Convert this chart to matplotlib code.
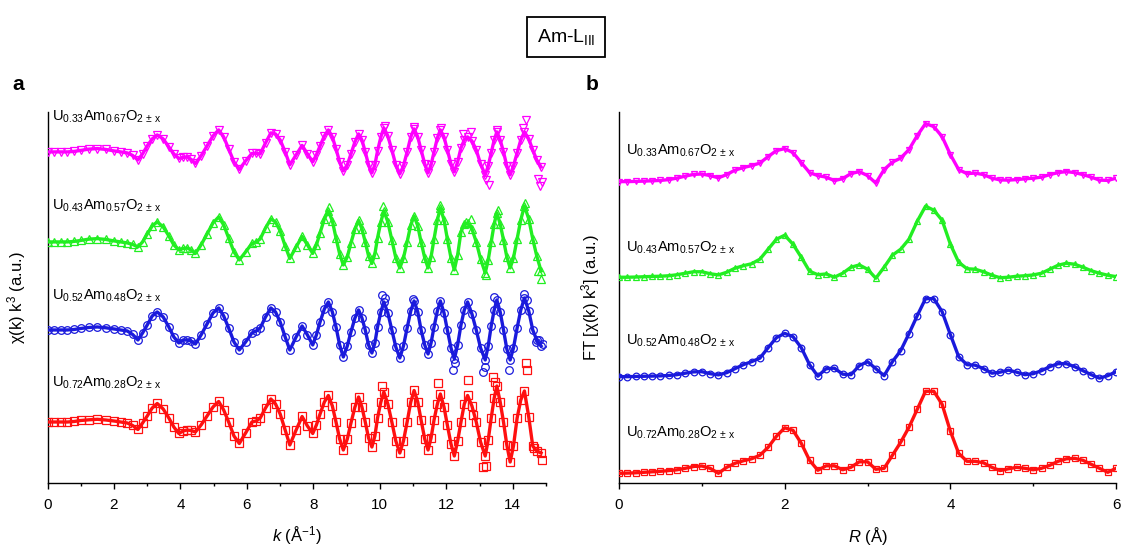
import matplotlib
matplotlib.use('Agg')
import matplotlib.pyplot as plt
from matplotlib.ticker import MultipleLocator

plt.rcParams['font.family'] = ['Liberation Sans', 'DejaVu Sans']
plt.rcParams['mathtext.fontset'] = 'custom'
plt.rcParams['mathtext.rm'] = 'Liberation Sans'
plt.rcParams['mathtext.it'] = 'Liberation Sans:italic'
plt.rcParams['mathtext.bf'] = 'Liberation Sans:bold'

# ---------------- data ----------------
samples = [r'U$_{0.33}$Am$_{0.67}$O$_{2\,\pm\,\mathrm{x}}$',
           r'U$_{0.43}$Am$_{0.57}$O$_{2\,\pm\,\mathrm{x}}$',
           r'U$_{0.52}$Am$_{0.48}$O$_{2\,\pm\,\mathrm{x}}$',
           r'U$_{0.72}$Am$_{0.28}$O$_{2\,\pm\,\mathrm{x}}$']

# panel a: k (1/Angstrom)
k = [0, 0.2, 0.4, 0.6, 0.8, 1.0, 1.25, 1.5, 1.75, 2.0, 2.2, 2.4, 2.56,
     2.72, 2.86, 3.0, 3.15, 3.3, 3.48, 3.65, 3.8, 3.95, 4.08,
     4.2, 4.32, 4.45, 4.62, 4.8, 4.98, 5.15, 5.3, 5.45, 5.61,
     5.77, 5.96, 6.15, 6.28, 6.4, 6.56, 6.72, 6.86, 7.0, 7.15,
     7.29, 7.48, 7.66, 7.82, 7.98, 8.09, 8.2, 8.33, 8.45, 8.57,
     8.68, 8.79, 8.9, 9.02, 9.13, 9.25, 9.36, 9.46, 9.56, 9.66,
     9.76, 9.85, 9.93, 10.03, 10.12, 10.24, 10.36, 10.48, 10.6, 10.71,
     10.82, 10.93, 11.03, 11.14, 11.24, 11.35, 11.45, 11.54, 11.63, 11.73,
     11.82, 11.93, 12.03, 12.14, 12.24, 12.34, 12.44, 12.54, 12.64, 12.77,
     12.9, 13.03, 13.17, 13.26, 13.35, 13.44, 13.52, 13.62, 13.72, 13.82,
     13.92, 14.02, 14.13, 14.24, 14.35, 14.48, 14.6, 14.72, 14.85]

chi_067 = [0, 0, 0, 0, 0.05, 0.15, 0.28, 0.33, 0.25, 0.1, 0.0, -0.1, -0.35,
           -0.8, -0.2, 0.6, 1.3, 1.7, 1.3, 0.5, -0.2, -0.65, -0.55,
           -0.5, -0.75, -1.15, -0.4, 0.6, 1.6, 2.2, 1.5, 0.3, -1.0,
           -1.75, -0.9, -0.15, -0.15, -0.2, 0.9, 1.9, 1.8, 1.2, 0.0,
           -1.3, -0.3, 0.65, -0.2, -1.0, -0.3, 0.6, 1.6, 2.2, 1.5,
           0.3, -1.0, -1.9, -1.3, -0.2, 1.0, 1.8, 1.2, 0.0, -1.3,
           -2.1, -1.3, 0.1, 1.5, 2.4, 1.6, 0.2, -1.3, -2.2, -1.4,
           0.0, 1.5, 2.3, 1.5, 0.2, -1.2, -2.1, -1.3, 0.0, 1.4,
           2.2, 1.5, 0.2, -1.2, -2.0, -1.0, 0.4, 1.2, 1.5, 1.1,
           0.2, -1.2, -2.3, -1.4, -0.1, 1.2, 2.0, 1.2, 0.0, -1.4,
           -2.3, -1.4, -0.1, 1.2, 2.0, 1.3, 0.2, -0.8, -1.5]
chi_057 = [0, 0, 0, 0, 0.05, 0.15, 0.28, 0.33, 0.25, 0.1, 0.0, -0.1, -0.25,
           -0.5, 0.0, 0.8, 1.6, 2.0, 1.5, 0.6, -0.3, -0.8, -0.65,
           -0.6, -0.8, -1.15, -0.3, 0.8, 1.9, 2.5, 1.7, 0.4, -1.0,
           -1.8, -1.0, -0.15, 0.0, 0.3, 1.4, 2.3, 2.0, 1.1, -0.4,
           -1.65, -0.5, 0.55, -0.3, -1.15, -0.3, 0.9, 2.3, 3.1, 2.1,
           0.4, -1.2, -2.3, -1.5, -0.1, 1.3, 2.15, 1.3, 0.0, -1.4,
           -2.15, -1.2, 0.4, 2.0, 3.1, 2.0, 0.2, -1.6, -2.6, -1.6,
           0.0, 1.7, 2.6, 1.6, 0.0, -1.6, -2.6, -1.5, 0.3, 2.2,
           3.4, 2.2, 0.3, -1.6, -2.8, -1.3, 1.0, 1.8, 1.9, 1.3,
           0.0, -1.7, -3.1, -1.8, 0.0, 1.8, 2.9, 1.8, 0.2, -1.5,
           -2.6, -1.6, 0.3, 2.2, 3.6, 2.3, 0.3, -1.4, -2.9]
chi_048 = [0, 0, 0, 0, 0.05, 0.15, 0.25, 0.3, 0.22, 0.1, 0.0, -0.1, -0.45,
           -1.0, -0.3, 0.5, 1.4, 1.8, 1.3, 0.3, -0.7, -1.3, -1.0,
           -1.0, -1.1, -1.4, -0.5, 0.6, 1.7, 2.2, 1.4, 0.2, -1.2,
           -2.0, -1.2, -0.3, -0.1, 0.2, 1.3, 2.2, 1.8, 0.8, -0.7,
           -2.0, -0.7, 0.4, -0.5, -1.5, -0.5, 0.8, 2.1, 2.8, 1.8,
           0.3, -1.5, -2.7, -1.6, -0.2, 1.2, 2.0, 1.2, 0.0, -1.5,
           -2.3, -1.3, 0.3, 1.8, 2.8, 1.7, 0.0, -1.7, -2.8, -1.6,
           0.2, 1.9, 2.9, 1.8, 0.0, -1.5, -2.4, -1.3, 0.3, 1.9,
           2.9, 1.7, 0.0, -1.8, -2.9, -1.5, 0.5, 2.0, 2.8, 1.6,
           0.0, -1.8, -3.0, -1.6, 0.4, 2.0, 3.0, 1.8, 0.0, -1.9,
           -3.0, -1.8, 0.2, 2.0, 3.2, 1.9, 0.0, -1.0, -1.6]
chi_028 = [0, 0, 0, 0, 0.05, 0.15, 0.22, 0.27, 0.2, 0.1, 0.0, -0.1, -0.35,
           -0.75, -0.1, 0.6, 1.4, 1.85, 1.3, 0.4, -0.5, -1.15, -0.9,
           -0.8, -0.85, -1.0, -0.3, 0.6, 1.5, 2.05, 1.2, 0.0, -1.4,
           -2.15, -1.1, 0.0, 0.1, 0.4, 1.4, 2.3, 1.8, 0.8, -0.8,
           -2.3, -0.8, 0.55, -0.4, -1.15, -0.3, 0.8, 2.0, 2.65, 1.6,
           0.0, -1.7, -2.8, -1.7, -0.1, 1.5, 2.5, 1.5, 0.0, -1.6,
           -2.5, -1.4, 0.4, 2.0, 3.0, 1.8, 0.0, -1.9, -3.1, -1.9,
           0.0, 2.0, 3.15, 2.0, 0.2, -1.7, -2.8, -1.6, 0.2, 1.8,
           2.8, 1.5, -0.3, -2.2, -3.4, -1.9, 0.0, 1.8, 2.65, 1.6,
           0.0, -2.0, -3.4, -1.8, 0.4, 2.4, 3.6, 2.0, 0.0, -2.3,
           -4.0, -2.4, 0.4, 2.2, 3.1, 0.5, -2.4, -2.9, -3.1]

# experimental points lying off the fit (panel a)
dev_k_067 = [10.14, 11.04, 11.84, 12.5, 12.74, 13.2, 13.27, 13.51, 14.3, 14.39, 14.75, 14.82, 14.88]
dev_067 = [2.6, 2.5, 2.4, 1.8, 2.0, -2.8, -3.3, 2.2, 2.4, 3.2, -2.7, -3.4, -3.0]
dev_k_057 = [8.46, 10.1, 11.82, 12.58, 12.75, 13.2, 13.54, 14.37, 14.76, 14.86]
dev_057 = [3.5, 3.6, 3.7, 2.0, 2.3, -3.3, 3.2, 3.9, -2.9, -3.7]
dev_k_048 = [10.06, 10.14, 11.0, 12.2, 12.27, 13.1, 13.15, 13.44, 13.88, 14.35, 14.42, 14.7, 14.8, 14.9]
dev_048 = [3.5, 3.2, 3.1, -4.0, -3.3, -4.2, -3.7, 3.3, -4.0, 3.6, 3.0, -1.2, -1.0, -1.4]
dev_k_028 = [10.07, 11.76, 12.66, 12.8, 13.1, 13.2, 13.4, 13.46, 14.4, 14.43, 14.65, 14.88]
dev_028 = [3.6, 3.9, 4.2, 0.7, -4.5, -4.4, 4.5, 4.0, 5.9, 5.2, -2.6, -3.8]

# panel b: R (Angstrom), 0.0 ... 6.0
R = [round(0.1 * i, 1) for i in range(61)]
ft_067 = [0.0, 0.0, 0.02, 0.05, 0.08, 0.12, 0.2, 0.35, 0.55, 0.72,
          0.76, 0.6, 0.38, 0.7, 1.15, 1.4, 1.6, 1.85, 2.5, 3.1,
          3.3, 2.9, 1.9, 0.9, 0.6, 0.45, 0.1, 0.3, 0.8, 1.0,
          0.6, -0.15, 1.2, 1.95, 2.35, 3.2, 4.6, 5.8, 5.5, 4.5,
          2.7, 1.2, 0.8, 0.85, 0.7, 0.35, 0.17, 0.15, 0.2, 0.28,
          0.34, 0.45, 0.7, 0.9, 1.0, 0.9, 0.7, 0.45, 0.15, 0.12,
          0.34]
ft_057 = [0.0, 0.0, 0.02, 0.05, 0.08, 0.1, 0.15, 0.25, 0.4, 0.55,
          0.55, 0.35, 0.23, 0.5, 0.9, 1.15, 1.35, 1.8, 2.8, 3.8,
          4.2, 3.3, 2.0, 0.6, 0.25, 0.33, 0.0, 0.4, 1.0, 1.23,
          0.8, -0.1, 1.0, 2.2, 2.8, 3.8, 5.6, 7.1, 6.7, 5.7,
          3.3, 1.5, 0.85, 0.8, 0.55, 0.2, -0.05, 0.0, 0.1, 0.15,
          0.23, 0.4, 0.8, 1.2, 1.4, 1.3, 1.0, 0.65, 0.4, 0.2,
          0.06]
ft_048 = [0.0, 0.0, 0.02, 0.04, 0.06, 0.08, 0.12, 0.2, 0.35, 0.48,
          0.5, 0.3, 0.18, 0.4, 0.8, 1.2, 1.5, 1.85, 2.9, 3.9,
          4.33, 4.0, 2.9, 1.2, 0.05, 0.8, 0.85, 0.25, 0.2, 1.1,
          1.5, 0.8, 0.1, 1.5, 2.6, 4.3, 6.1, 7.8, 7.8, 6.5,
          4.2, 2.0, 1.2, 1.15, 0.8, 0.35, 0.45, 0.65, 0.45, 0.2,
          0.3, 0.6, 1.0, 1.3, 1.3, 1.0, 0.6, 0.2, -0.15, 0.1,
          0.5]
ft_028 = [0.0, 0.02, 0.05, 0.1, 0.15, 0.2, 0.27, 0.35, 0.5, 0.68,
          0.73, 0.5, 0.0, 0.6, 1.0, 1.25, 1.45, 1.8, 2.6, 3.7,
          4.55, 4.3, 3.0, 1.3, 0.3, 0.75, 0.75, 0.35, 0.6, 1.15,
          1.15, 0.4, 0.5, 1.8, 3.1, 4.6, 6.4, 8.2, 8.2, 6.9,
          4.2, 2.0, 1.2, 1.2, 1.05, 0.6, 0.27, 0.45, 0.6, 0.5,
          0.35, 0.5, 0.8, 1.2, 1.45, 1.5, 1.3, 0.9, 0.5, 0.1,
          0.5]

# ---------------- styling ----------------
colors = ['#ff00ff', '#22ee22', '#1a1adc', '#ff1010']
markers = ['v', '^', 'o', 's']
offsets_a = [33.1, 24.1, 15.3, 6.1]
offsets_b = [30.13, 20.57, 10.63, 0.97]
label_y_a = [36.2, 27.3, 18.37, 9.63]
label_y_b = [32.8, 23.13, 13.8, 4.63]

fig = plt.figure(figsize=(11.21, 5.49), dpi=100)
axA = fig.add_axes([0.0424, 0.1202, 0.4447, 0.676])
axB = fig.add_axes([0.5522, 0.1202, 0.4434, 0.676])

chis = [chi_067, chi_057, chi_048, chi_028]
dev_ks = [dev_k_067, dev_k_057, dev_k_048, dev_k_028]
devs = [dev_067, dev_057, dev_048, dev_028]
fts = [ft_067, ft_057, ft_048, ft_028]

for i in range(4):
    off = offsets_a[i]
    ys = [v + off for v in chis[i]]
    axA.plot(k, ys, color=colors[i], lw=2.4, zorder=3)
    axA.plot(k, ys, ls='none', marker=markers[i], ms=5.5,
             mfc='none', mec=colors[i], mew=0.9, zorder=4)
    axA.plot(dev_ks[i], [v + off for v in devs[i]], ls='none', marker=markers[i], ms=5.5,
             mfc='none', mec=colors[i], mew=0.9, zorder=4)
    axA.text(0.14, label_y_a[i], samples[i], fontsize=10.5, va='baseline', ha='left')

    offb = offsets_b[i]
    yb = [v + offb for v in fts[i]]
    axB.plot(R, yb, color=colors[i], lw=2.4, zorder=3)
    axB.plot(R, yb, ls='none', marker=markers[i], ms=4.8,
             mfc='none', mec=colors[i], mew=0.9, zorder=4)
    axB.text(0.08, label_y_b[i], samples[i], fontsize=10.5, va='baseline', ha='left')

for ax in (axA, axB):
    ax.set_ylim(0, 37.1)
    ax.spines['top'].set_visible(False)
    ax.spines['right'].set_visible(False)
    ax.spines['left'].set_linewidth(1.0)
    ax.spines['bottom'].set_linewidth(1.0)
    ax.set_yticks([])
    ax.xaxis.set_minor_locator(MultipleLocator(1))
    ax.tick_params(axis='x', which='major', direction='out', length=4.5, width=1.0,
                   labelsize=11, pad=6)
    ax.tick_params(axis='x', which='minor', direction='out', length=2.5, width=1.0)

axA.set_xlim(0, 15)
axA.xaxis.set_major_locator(MultipleLocator(2))
axB.set_xlim(0, 6)
axB.xaxis.set_major_locator(MultipleLocator(2))

axA.set_xlabel(r'$k$ (Å$^{-1}$)', fontsize=12)
axB.set_xlabel(r'$R$ (Å)', fontsize=12)
axA.xaxis.set_label_coords(0.5, -0.112)
axB.xaxis.set_label_coords(0.5, -0.112)
axA.set_ylabel(r'χ(k) k$^3$ (a.u.)', fontsize=12)
axB.set_ylabel(r'FT [χ(k) k$^3$] (a.u.)', fontsize=12)
axA.yaxis.set_label_coords(-0.039, 0.5)
axB.yaxis.set_label_coords(-0.034, 0.5)

fig.text(566 / 1121, 1 - 37 / 549, r'Am-L$_{\mathrm{III}}$', fontsize=14, ha='center',
         va='center', bbox=dict(boxstyle='square,pad=0.5', fc='white', ec='black', lw=1.3))
fig.text(18 / 1121, 1 - 85 / 549, 'a', fontsize=15, fontweight='bold', ha='center', va='center')
fig.text(592 / 1121, 1 - 85 / 549, 'b', fontsize=15, fontweight='bold', ha='center', va='center')

fig.savefig('out.png', dpi=100)
